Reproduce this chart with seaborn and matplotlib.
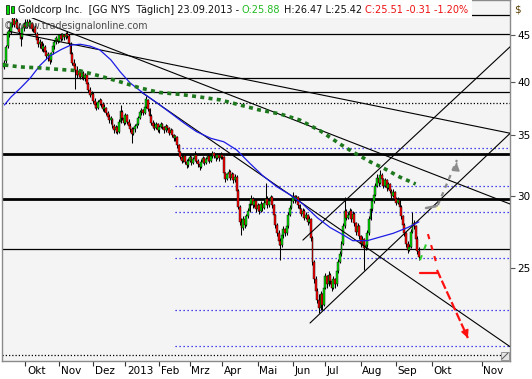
import numpy as np
import pandas as pd
import matplotlib
matplotlib.use("Agg")
import matplotlib.pyplot as plt
import matplotlib.ticker as mticker
from matplotlib.patches import Rectangle
from matplotlib.lines import Line2D
import seaborn as sns

W, H = 532, 379

# Goldcorp (GG, NYSE), daily candles 12.09.2012 - 23.09.2013
opens = [
    41.5, 42.2, 43.8, 45.2, 45.4, 46.3, 46.9, 46.3, 46.6, 45.9,
    45.3, 44.8, 45.8, 46.2, 46.0, 46.6, 46.1, 46.4, 45.7, 46.0,
    45.2, 44.5, 44.0, 44.2, 43.5, 43.7, 43.1, 42.7, 42.8, 42.3,
    43.1, 43.8, 44.3, 44.6, 44.4, 45.0, 44.6, 45.0, 44.8, 45.2,
    44.9, 44.0, 42.9, 42.0, 41.6, 41.2, 40.7, 41.1, 40.5, 40.9,
    40.4, 40.7, 39.8, 39.2, 38.7, 38.8, 38.1, 37.7, 37.5, 38.0,
    38.2, 37.8, 37.4, 37.5, 37.0, 36.6, 36.3, 36.4, 35.8, 35.4,
    35.7, 35.3, 36.2, 37.1, 36.5, 36.1, 36.8, 36.2, 35.8, 35.5,
    35.1, 35.5, 35.8, 36.0, 36.5, 37.1, 37.3, 37.0, 37.6, 38.2,
    37.4, 36.7, 36.1, 35.8, 35.6, 36.0, 35.4, 35.7, 36.0, 35.7,
    35.4, 35.8, 35.6, 35.2, 35.4, 35.0, 34.7, 34.8, 34.1, 33.5,
    33.1, 32.8, 33.2, 32.7, 32.4, 32.8, 33.1, 32.6, 32.9, 33.3,
    32.8, 32.5, 32.3, 32.7, 33.0, 32.6, 32.9, 33.2, 32.8, 33.2,
    33.4, 33.2, 33.0, 33.3, 33.0, 33.3, 33.1, 31.8, 31.3, 31.7,
    31.9, 31.4, 31.7, 31.2, 31.5, 30.4, 29.2, 28.1, 27.7, 28.3,
    27.9, 28.5, 28.9, 29.4, 29.8, 29.3, 29.6, 29.0, 29.3, 28.9,
    29.4, 29.1, 29.5, 29.8, 29.3, 29.6, 29.9, 29.3, 28.6, 27.9,
    27.3, 26.8, 26.5, 27.2, 27.6, 27.3, 27.8, 28.6, 29.1, 29.6,
    30.0, 29.7, 29.9, 29.3, 29.0, 28.7, 28.9, 28.4, 28.6, 28.1,
    28.3, 27.0, 25.4, 24.3, 23.6, 23.1, 22.6, 23.4, 22.8, 23.8,
    24.5, 24.0, 24.6, 24.2, 23.8, 24.3, 24.0, 24.8, 25.4, 25.9,
    26.6, 27.8, 28.9, 28.4, 28.6, 28.9, 28.3, 28.7, 28.0, 27.4,
    27.8, 27.1, 26.6, 26.9, 26.3, 26.5, 27.3, 28.3, 29.0, 29.6,
    30.1, 30.8, 31.4, 31.0, 31.6, 31.3, 30.8, 31.2, 30.6, 30.9,
    30.4, 30.0, 30.3, 29.8, 29.5, 29.7, 29.2, 28.5, 27.9, 27.3,
    26.6, 26.2, 26.4, 27.4, 28.0, 27.8, 26.9, 26.1,
]
highs = [
    42.3, 43.9, 45.6, 46.0, 46.6, 47.2, 47.3, 47.0, 46.9, 46.4,
    45.6, 46.0, 46.6, 46.9, 46.9, 46.9, 46.8, 46.6, 46.3, 46.2,
    45.4, 44.8, 44.6, 44.4, 44.1, 43.9, 43.4, 43.1, 43.0, 43.2,
    44.0, 44.5, 44.9, 45.0, 45.2, 45.3, 45.3, 45.2, 45.4, 45.5,
    45.1, 44.2, 43.1, 42.4, 42.0, 41.6, 41.3, 41.3, 41.0, 41.1,
    40.9, 40.8, 40.0, 39.5, 39.1, 39.0, 38.4, 38.0, 38.2, 38.4,
    38.3, 38.0, 37.8, 37.6, 37.2, 36.9, 36.7, 36.5, 36.0, 35.9,
    35.8, 36.4, 37.7, 37.3, 36.8, 37.0, 36.9, 36.4, 36.1, 35.7,
    35.7, 36.0, 36.2, 36.7, 37.3, 37.5, 37.4, 37.8, 38.6, 38.3,
    37.5, 36.9, 36.3, 36.2, 36.2, 36.1, 35.9, 36.2, 36.1, 35.8,
    36.0, 35.9, 35.7, 35.6, 35.5, 35.1, 35.0, 34.9, 34.2, 33.6,
    33.3, 33.4, 33.3, 32.9, 33.0, 33.3, 33.2, 33.1, 33.6, 33.4,
    32.9, 32.7, 32.9, 33.2, 33.1, 33.1, 33.4, 33.3, 33.4, 33.6,
    33.5, 33.3, 33.4, 33.4, 33.5, 33.4, 33.2, 31.9, 31.8, 32.1,
    32.0, 31.9, 31.8, 31.7, 31.6, 30.5, 29.3, 28.4, 28.5, 28.4,
    28.7, 29.1, 29.6, 30.1, 29.9, 29.8, 29.7, 29.5, 29.4, 29.6,
    29.5, 29.7, 31.0, 30.0, 29.8, 30.1, 30.0, 29.4, 28.7, 28.0,
    27.5, 27.0, 27.4, 27.8, 27.7, 28.0, 28.8, 29.3, 29.8, 30.3,
    30.1, 30.1, 30.0, 29.4, 29.1, 29.1, 29.0, 28.8, 28.7, 28.5,
    28.4, 27.1, 25.5, 24.5, 23.8, 23.4, 23.6, 23.5, 24.0, 24.7,
    24.6, 24.8, 24.7, 24.3, 24.5, 24.4, 25.0, 25.6, 26.1, 26.8,
    28.0, 29.9, 29.0, 28.8, 29.1, 29.0, 28.9, 28.8, 28.1, 28.0,
    27.9, 27.2, 27.1, 27.0, 26.7, 27.5, 28.5, 29.2, 29.8, 30.3,
    31.0, 31.7, 31.5, 32.0, 31.8, 31.4, 31.4, 31.3, 31.1, 31.0,
    30.5, 30.5, 30.4, 29.9, 29.9, 29.8, 29.3, 28.6, 28.0, 27.4,
    26.8, 26.6, 27.6, 28.8, 28.2, 27.9, 27.1, 26.4,
]
lows = [
    41.3, 42.0, 43.6, 44.8, 45.2, 46.0, 46.0, 45.8, 45.7, 45.2,
    43.8, 44.6, 45.5, 45.8, 45.9, 45.9, 45.9, 45.5, 45.4, 45.0,
    44.2, 43.7, 43.6, 43.3, 43.2, 42.9, 42.4, 42.2, 41.9, 42.1,
    42.9, 43.5, 44.0, 44.1, 44.2, 44.4, 44.5, 44.5, 44.6, 44.7,
    43.9, 42.7, 41.8, 41.3, 39.3, 40.4, 40.5, 40.3, 40.3, 40.2,
    40.1, 39.6, 39.0, 38.5, 38.3, 37.9, 37.5, 37.3, 37.4, 37.7,
    37.6, 37.2, 37.1, 36.8, 36.4, 36.1, 36.0, 35.6, 35.2, 35.2,
    35.1, 35.2, 36.1, 36.3, 35.9, 36.0, 36.0, 35.6, 35.3, 34.3,
    35.0, 35.3, 35.6, 35.9, 36.4, 36.8, 36.8, 36.9, 37.5, 37.2,
    36.5, 35.9, 35.6, 35.4, 35.5, 35.3, 35.2, 35.6, 35.5, 35.2,
    35.3, 35.4, 35.0, 35.1, 34.8, 34.5, 34.5, 33.9, 33.3, 32.9,
    32.6, 32.7, 32.5, 32.2, 32.3, 32.7, 32.4, 32.5, 32.8, 32.6,
    32.3, 32.0, 32.2, 32.6, 32.4, 32.5, 32.8, 32.6, 32.7, 33.0,
    33.0, 32.8, 32.9, 32.8, 32.9, 32.9, 31.6, 31.1, 31.2, 31.5,
    31.2, 31.3, 31.0, 31.1, 30.2, 29.0, 27.9, 27.2, 27.5, 27.7,
    27.8, 28.4, 28.8, 29.3, 29.1, 29.2, 28.8, 28.9, 28.7, 28.8,
    28.9, 29.0, 29.4, 29.1, 29.2, 29.5, 29.1, 28.4, 27.7, 27.1,
    26.5, 25.5, 26.4, 27.0, 27.1, 27.2, 27.7, 28.5, 29.0, 29.5,
    29.5, 29.6, 29.1, 28.8, 28.5, 28.6, 28.2, 28.3, 27.9, 28.0,
    26.8, 25.2, 24.1, 23.4, 22.9, 22.3, 22.5, 22.5, 22.7, 23.7,
    23.8, 23.9, 24.0, 23.6, 23.7, 23.8, 23.9, 24.7, 25.3, 25.8,
    26.5, 27.7, 28.2, 28.3, 28.5, 28.1, 28.2, 27.8, 27.2, 27.3,
    26.9, 26.4, 26.5, 24.9, 26.2, 26.4, 27.2, 28.2, 28.9, 29.5,
    30.0, 30.7, 30.8, 30.9, 31.1, 30.6, 30.7, 30.4, 30.5, 30.2,
    29.8, 29.9, 29.6, 29.3, 29.4, 29.0, 28.3, 27.7, 27.1, 26.4,
    26.0, 26.1, 26.3, 27.3, 27.6, 26.8, 25.9, 25.5,
]
closes = [
    42.0, 43.7, 45.4, 45.5, 46.4, 46.9, 46.2, 46.7, 45.9, 45.4,
    44.6, 45.8, 46.3, 46.0, 46.6, 46.1, 46.5, 45.7, 46.0, 45.3,
    44.5, 44.0, 44.3, 43.5, 43.8, 43.1, 42.7, 42.9, 42.2, 43.0,
    43.8, 44.3, 44.7, 44.4, 45.0, 44.6, 45.1, 44.8, 45.2, 44.9,
    44.1, 42.9, 42.0, 41.6, 41.2, 40.7, 41.1, 40.5, 40.9, 40.4,
    40.7, 39.8, 39.2, 38.7, 38.9, 38.1, 37.7, 37.5, 38.0, 38.2,
    37.8, 37.4, 37.6, 37.0, 36.6, 36.3, 36.5, 35.8, 35.4, 35.7,
    35.3, 36.2, 37.2, 36.5, 36.1, 36.8, 36.2, 35.8, 35.5, 35.1,
    35.5, 35.8, 36.0, 36.5, 37.1, 37.3, 37.0, 37.6, 38.3, 37.4,
    36.7, 36.1, 35.8, 35.6, 36.0, 35.4, 35.7, 36.0, 35.7, 35.4,
    35.8, 35.6, 35.2, 35.4, 35.0, 34.7, 34.9, 34.1, 33.5, 33.1,
    32.8, 33.2, 32.7, 32.4, 32.8, 33.1, 32.6, 32.9, 33.3, 32.8,
    32.5, 32.3, 32.7, 33.0, 32.6, 32.9, 33.2, 32.8, 33.2, 33.4,
    33.2, 33.0, 33.3, 33.0, 33.3, 33.1, 31.8, 31.3, 31.7, 31.9,
    31.4, 31.7, 31.2, 31.5, 30.4, 29.2, 28.1, 27.7, 28.3, 27.9,
    28.5, 28.9, 29.4, 29.8, 29.3, 29.6, 29.0, 29.3, 28.9, 29.4,
    29.1, 29.5, 29.8, 29.3, 29.6, 29.9, 29.3, 28.6, 27.9, 27.3,
    26.8, 26.5, 27.2, 27.6, 27.3, 27.8, 28.6, 29.1, 29.6, 30.0,
    29.7, 29.9, 29.3, 29.0, 28.7, 28.9, 28.4, 28.6, 28.1, 28.3,
    27.0, 25.4, 24.3, 23.6, 23.1, 22.6, 23.4, 22.8, 23.8, 24.5,
    24.0, 24.6, 24.2, 23.8, 24.3, 24.0, 24.8, 25.4, 25.9, 26.6,
    27.8, 28.9, 28.4, 28.6, 28.9, 28.3, 28.7, 28.0, 27.4, 27.8,
    27.1, 26.6, 26.9, 26.3, 26.5, 27.3, 28.3, 29.0, 29.6, 30.1,
    30.8, 31.4, 31.0, 31.6, 31.3, 30.8, 31.2, 30.6, 30.9, 30.4,
    30.0, 30.3, 29.8, 29.5, 29.7, 29.2, 28.5, 27.9, 27.3, 26.6,
    26.2, 26.4, 27.4, 28.0, 27.8, 26.9, 26.1, 25.7,
]

# NYSE closed days in the period
holidays = ["2012-10-29", "2012-10-30", "2012-11-22", "2012-12-25", "2013-01-01",
            "2013-01-21", "2013-02-18", "2013-03-29", "2013-05-27", "2013-07-04",
            "2013-09-02"]

# moving averages (bar index, value)
ma_blue_idx = [0, 4, 10, 16, 22, 28, 35, 41, 47, 53, 59, 66, 72, 78, 86, 95, 103,
               111, 119, 128, 136, 144, 152, 160, 169, 177, 185, 194, 202, 210,
               216, 225, 233, 241, 250, 257]
ma_blue = [37.75, 38.5, 39.4, 40.4, 41.7, 42.7, 43.4, 43.9, 44.0, 43.8, 43.4, 42.3,
           41.0, 39.9, 38.9, 37.9, 37.0, 36.1, 35.3, 34.7, 34.4, 33.7, 32.6, 31.6,
           30.7, 30.1, 29.4, 28.4, 27.7, 27.2, 26.8, 26.8, 27.05, 27.3, 27.7, 28.1]
ma_green_idx = [0, 10, 22, 34, 47, 59, 72, 84, 96, 109, 121, 134, 146, 158, 171,
                183, 196, 208, 216, 227, 236, 245, 255]
ma_green = [41.76, 41.55, 41.45, 41.29, 41.14, 40.62, 40.01, 39.41, 38.96, 38.77,
            38.52, 38.23, 37.75, 37.28, 36.9, 36.35, 35.35, 34.21, 33.53, 32.69,
            32.12, 31.48, 30.92]

# horizontal levels
levels_thin = [47.4, 45.16, 40.38, 39.01, 26.22]
levels_thick = [33.36, 29.74]
levels_dotted = [37.94, 20.08]
levels_blue = [33.87, 30.77, 28.79, 25.63, 22.49, 20.54]
levels_blue_from = [110, 106, 106, 106, 106, 106]

# trend lines: index0, price0, index1, price1
trend_lines = [
    (3.5, 45.43, 313.5, 35.15),
    (17.1, 47.03, 313.5, 29.4),
    (84.7, 39.01, 313.5, 20.51),
    (185.1, 26.84, 313.5, 43.71),
    (189.5, 21.77, 313.5, 35.13),
]

# forecast sketch
red_swing_idx = [262.6, 268.2]
red_swing = [27.25, 25.2]
red_level_idx = [257.7, 268.2]
red_level = [24.7, 24.7]
red_target_idx = [268.2, 287.4]
red_target = [24.89, 20.96]
green_swing_idx = [257.7, 262.0]
green_swing = [25.52, 26.71]
gray_level_idx = [261.4, 268.2]
gray_level = [29.1, 29.25]
gray_target_idx = [268.8, 280.6]
gray_target = [29.33, 32.86]

month_dates = ["2012-10-01", "2012-11-01", "2012-12-01", "2013-01-01", "2013-02-01",
               "2013-03-01", "2013-04-01", "2013-05-01", "2013-06-01", "2013-07-01",
               "2013-08-01", "2013-09-01", "2013-10-01", "2013-11-01"]
month_labels = ["Okt", "Nov", "Dez", "2013", "Feb", "Mrz", "Apr", "Mai", "Jun", "Jul",
                "Aug", "Sep", "Okt", "Nov"]
price_ticks = [25, 30, 35, 40, 45]

# bar index for every date (trading days, then calendar days after the last bar)
days = pd.bdate_range("2012-09-12", "2013-09-23")
days = days[~days.isin(pd.to_datetime(holidays))]
assert len(days) == len(closes), len(days)
all_days = days.append(pd.date_range("2013-09-24", "2013-12-31"))
month_pos = np.searchsorted(all_days.values, pd.to_datetime(month_dates).values)

sns.set_theme(style="white")
plt.rcParams["font.family"] = ["DejaVu Sans"]

fig = plt.figure(figsize=(W / 100, H / 100), dpi=100)
fig.patch.set_facecolor("white")
ax = fig.add_axes([2 / W, 18 / H, 508 / W, 361 / H])
ax.set_facecolor("#f4f4f4")
ax.set_yscale("log")

# levels
for y in levels_thin:
    ax.axhline(y, color="black", lw=0.9, zorder=2)
for y in levels_thick:
    ax.axhline(y, color="black", lw=2.0, zorder=2)
for y in levels_dotted:
    ax.axhline(y, color="black", lw=0.9, ls=(0, (1, 1.6)), zorder=2)
ax.hlines(levels_blue, levels_blue_from, 313.5, colors="#1010ee", lw=0.9,
          linestyles=[(0, (1, 2.2))], zorder=2)

# candles
x = np.arange(len(closes))
o, hi, lo, c = (np.array(v) for v in (opens, highs, lows, closes))
ax.vlines(x, lo, hi, color="black", lw=0.75, zorder=3)
ax.bar(x, np.abs(c - o), bottom=np.minimum(o, c), width=1.15,
       color=np.where(c >= o, "#00dd00", "#ff0000"), edgecolor="black",
       linewidth=0.3, zorder=4)

for x0, p0, x1, p1 in trend_lines:
    ax.plot([x0, x1], [p0, p1], color="black", lw=0.8, zorder=5)

sns.lineplot(x=ma_blue_idx, y=ma_blue, ax=ax, color="#1c1ce6", lw=0.9, zorder=6)
sns.lineplot(x=ma_green_idx, y=ma_green, ax=ax, color="#1e781e", lw=2.6, zorder=6)
ax.lines[-1].set_dashes((1.1, 1.2))
ax.lines[-1].set_dash_capstyle("butt")

# forecast sketch
ax.plot(green_swing_idx, green_swing, color="#33cc33", lw=1.5, ls=(0, (2.5, 3)), zorder=7)
ax.plot(red_swing_idx, red_swing, color="#ff1010", lw=1.5, ls=(0, (2.5, 3)), zorder=7)
ax.plot(red_level_idx, red_level, color="#ff1010", lw=1.6, zorder=7)
ax.plot(red_target_idx, red_target, color="#ff1010", lw=1.6, ls=(0, (4, 1.3)), zorder=7)
ax.annotate("", xy=(red_target_idx[1], red_target[1]),
            xytext=(red_target_idx[1] - 1.2, red_target[1] * 1.012),
            arrowprops=dict(arrowstyle="-|>", color="#ff1010", lw=1.2, mutation_scale=11),
            zorder=7)
ax.plot(gray_level_idx, gray_level, color="#8c8c8c", lw=1.8, zorder=7)
ax.plot(gray_target_idx, gray_target, color="#8c8c8c", lw=1.6, ls=(0, (2, 2.2)), zorder=7)
ax.annotate("", xy=(gray_target_idx[1], gray_target[1]),
            xytext=(gray_target_idx[1] - 0.4, gray_target[1] * 0.985),
            arrowprops=dict(arrowstyle="-|>", color="#8c8c8c", lw=1.2, mutation_scale=11),
            zorder=7)
ax.plot([gray_level_idx[1] + 0.6], [gray_level[1] * 0.995], marker="s", ms=3,
        color="#ffffc8", mec="none", zorder=8)

ax.set_xlim(-1.5, 313.5)
ax.set_ylim(19.78, 49.2)
ax.set_xlabel("")
ax.set_ylabel("")

ax.yaxis.tick_right()
ax.set_yticks(price_ticks)
ax.set_yticklabels([str(t) for t in price_ticks])
ax.yaxis.set_minor_locator(mticker.NullLocator())
ax.tick_params(axis="y", length=3.5, width=0.8, color="#555555", pad=1.5,
               labelsize=7.5, labelcolor="black", direction="out", right=True, left=False)
ax.set_xticks(month_pos)
ax.set_xticklabels([])
ax.tick_params(axis="x", length=3.5, width=0.8, color="#333333", direction="out", bottom=True)
for pos, lab in zip(month_pos, month_labels):
    ax.annotate(lab, xy=(pos, 0), xycoords=("data", "axes fraction"), xytext=(1.5, -4.5),
                textcoords="offset pixels", ha="left", va="top", fontsize=7.5,
                color="black", annotation_clip=False)
for s in ax.spines.values():
    s.set_color("#8a8a8a")
    s.set_linewidth(1.0)

fig.text(514 / W, 1 - 10 / H, "$", fontsize=7.5, color="#5a4000", ha="left", va="center")

# resize grip in the corner
fig.add_artist(Rectangle((501 / W, 19 / H), 8 / W, 8 / H, transform=fig.transFigure,
                         facecolor="#e4e4e4", edgecolor="#8a8a8a", lw=0.6, zorder=12))
fig.add_artist(Line2D([502 / W, 508 / W], [20 / H, 26 / H], transform=fig.transFigure,
                      color="#555555", lw=0.7, zorder=13))

# header
fig.add_artist(Rectangle((0, 1 - 18 / H), 472 / W, 18 / H, transform=fig.transFigure,
                         facecolor="white", edgecolor="none", zorder=10))
fig.add_artist(Rectangle((5.5 / W, 1 - 14 / H), 3 / W, 9 / H, transform=fig.transFigure,
                         facecolor="#00dd00", edgecolor="black", lw=0.5, zorder=11))
fig.add_artist(Rectangle((10.5 / W, 1 - 13 / H), 3 / W, 7 / H, transform=fig.transFigure,
                         facecolor="#00dd00", edgecolor="black", lw=0.5, zorder=11))

header = [("Goldcorp Inc.  [GG NYS  Täglich] 23.09.2013 -", "#111111"),
          ("O:25.88", "#22bb22"),
          ("H:26.47 L:25.42", "#111111"),
          ("C:25.51 -0.31 -1.20%", "#ee1111")]


def put_header(size):
    renderer = fig.canvas.get_renderer()
    xpix = 17.5
    out = []
    for i, (s, col) in enumerate(header):
        if i:
            xpix += 3.2
        t = fig.text(xpix / W, 1 - 13 / H, s, fontsize=size, color=col,
                     va="baseline", ha="left", zorder=11)
        xpix = t.get_window_extent(renderer).x1
        out.append(t)
    return out, xpix - 17.5


fig.canvas.draw()
texts, width = put_header(7.0)
for t in texts:
    t.remove()
put_header(7.0 * 452 / width)

wm = fig.text(3.5 / W, 1 - 26 / H, "© www.tradesignalonline.com", fontsize=7.0,
              color="#4a4a4a", va="center", ha="left", zorder=11)
wm_w = wm.get_window_extent(fig.canvas.get_renderer()).width
wm.set_fontsize(7.0 * 145 / wm_w)

fig.savefig("out.png", dpi=100)
